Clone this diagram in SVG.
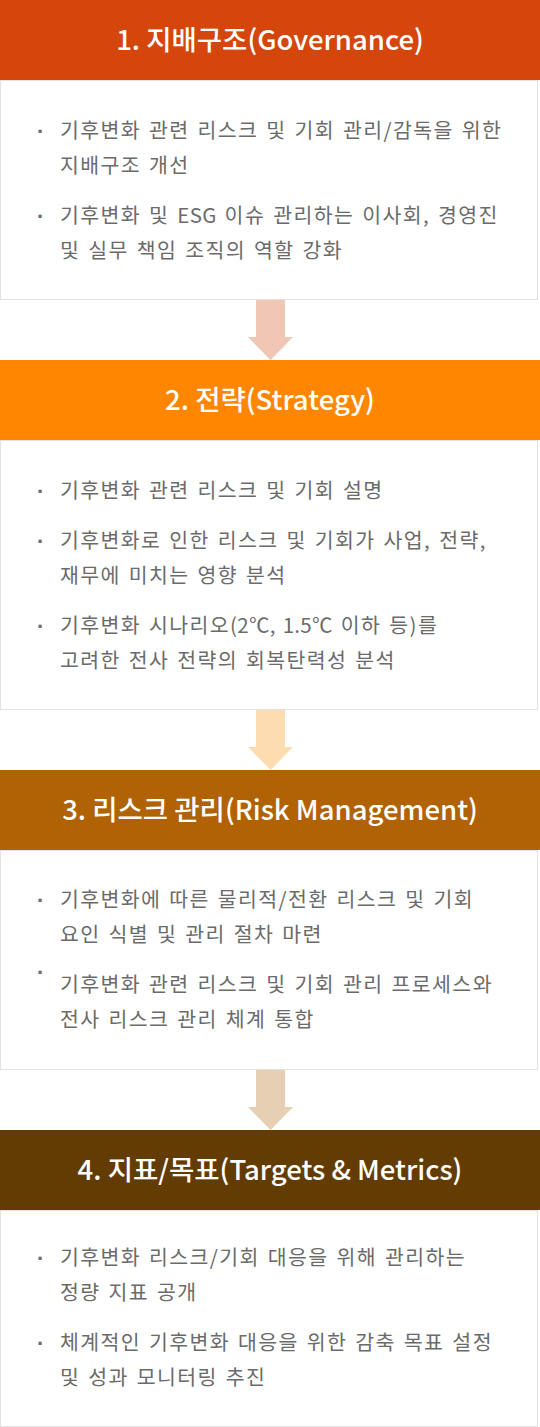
<svg xmlns="http://www.w3.org/2000/svg" width="540" height="1427" viewBox="0 0 540 1427">
<defs>
<style>
.box{fill:#ffffff;stroke:#e2e2e2;stroke-width:1}
.title{font-family:"Noto Sans CJK KR","Noto Sans",sans-serif;font-size:27.5px;font-weight:500;fill:#ffffff;text-anchor:middle}
.body{font-family:"Noto Sans CJK KR","Noto Sans",sans-serif;font-size:20.5px;letter-spacing:1.4px;word-spacing:2px;fill:#6b6b6b}
.lat{letter-spacing:0.3px}
.dot{font-family:"Liberation Sans",sans-serif;font-size:22px;font-weight:bold;fill:#6b6b6b}
</style>
</defs>
<rect width="540" height="1427" fill="#ffffff"/>
<g id="connectors">
<polygon points="256,300 285,300 285,337 293,337 270.5,360 248,337 256,337" fill="#f2c6b4"/>
<polygon points="256,710 285,710 285,747 293,747 270.5,770 248,747 256,747" fill="#fedcb2"/>
<polygon points="256,1070 285,1070 285,1107 293,1107 270.5,1130 248,1107 256,1107" fill="#e6cfb2"/>
</g>
<g id="node-governance">
<rect x="0" y="0" width="540" height="80" fill="#d4460b"/>
<text class="title" x="270" y="50">1. 지배구조(Governance)</text>
<rect class="box" x="0.5" y="80.5" width="537" height="219"/>
<text class="dot" x="37" y="139">·</text>
<text class="body" x="60" y="137.5">기후변화 관련 리스크 및 기회 관리/감독을 위한</text>
<text class="body" x="60" y="172.5">지배구조 개선</text>
<text class="dot" x="37" y="224">·</text>
<text class="body" x="60" y="222.5">기후변화 및 <tspan class="lat">ESG</tspan> 이슈 관리하는 이사회, 경영진</text>
<text class="body" x="60" y="257.5">및 실무 책임 조직의 역할 강화</text>
</g>
<g id="node-strategy">
<rect x="0" y="360" width="540" height="80" fill="#ff8600"/>
<text class="title" x="270" y="410">2. 전략(Strategy)</text>
<rect class="box" x="0.5" y="440.5" width="537" height="269"/>
<text class="dot" x="37" y="499">·</text>
<text class="body" x="60" y="497.5">기후변화 관련 리스크 및 기회 설명</text>
<text class="dot" x="37" y="549">·</text>
<text class="body" x="60" y="547.5">기후변화로 인한 리스크 및 기회가 사업, 전략,</text>
<text class="body" x="60" y="582.5">재무에 미치는 영향 분석</text>
<text class="dot" x="37" y="634">·</text>
<text class="body" x="60" y="632.5">기후변화 시나리오<tspan class="lat">(2℃, 1.5℃</tspan> 이하 등)를</text>
<text class="body" x="60" y="667.5">고려한 전사 전략의 회복탄력성 분석</text>
</g>
<g id="node-risk">
<rect x="0" y="770" width="540" height="80" fill="#b06204"/>
<text class="title" x="270" y="820">3. 리스크 관리(Risk Management)</text>
<rect class="box" x="0.5" y="850.5" width="537" height="219"/>
<text class="dot" x="37" y="908">·</text>
<text class="body" x="60" y="906.5">기후변화에 따른 물리적/전환 리스크 및 기회</text>
<text class="body" x="60" y="941.5">요인 식별 및 관리 절차 마련</text>
<text class="dot" x="37" y="980">·</text>
<text class="body" x="60" y="991.5">기후변화 관련 리스크 및 기회 관리 프로세스와</text>
<text class="body" x="60" y="1026.5">전사 리스크 관리 체계 통합</text>
</g>
<g id="node-metrics">
<rect x="0" y="1130" width="540" height="80" fill="#633c04"/>
<text class="title" x="270" y="1180">4. 지표/목표(Targets &amp; Metrics)</text>
<rect class="box" x="0.5" y="1210.5" width="537" height="216"/>
<text class="dot" x="37" y="1266">·</text>
<text class="body" x="60" y="1264.5">기후변화 리스크/기회 대응을 위해 관리하는</text>
<text class="body" x="60" y="1299.5">정량 지표 공개</text>
<text class="dot" x="37" y="1351">·</text>
<text class="body" x="60" y="1349.5">체계적인 기후변화 대응을 위한 감축 목표 설정</text>
<text class="body" x="60" y="1384.5">및 성과 모니터링 추진</text>
</g>
</svg>
